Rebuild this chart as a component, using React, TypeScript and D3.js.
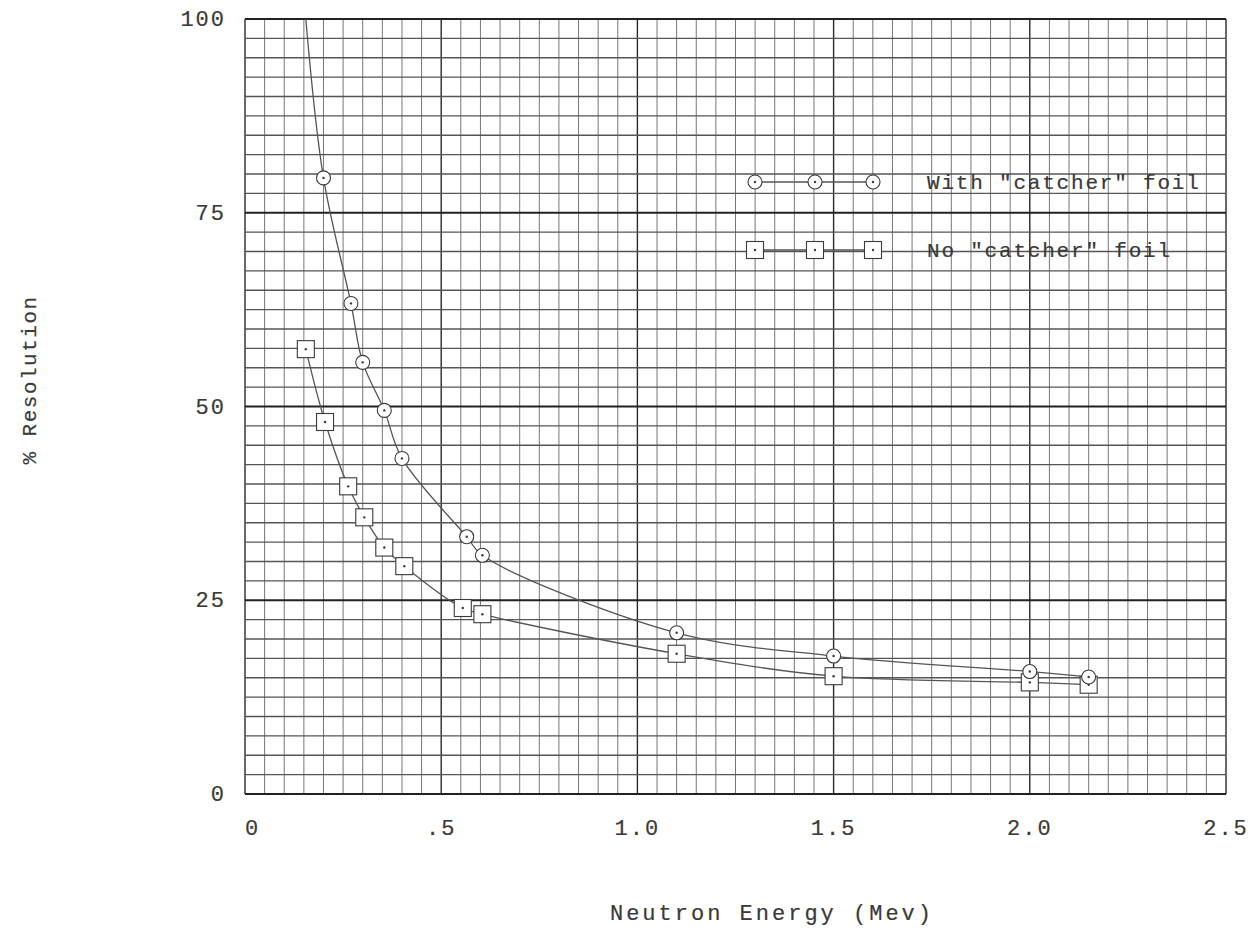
import React from "react";
import * as d3 from "d3";

// With "catcher" foil (circles)
const withEnergy = [0.2, 0.27, 0.3, 0.355, 0.4, 0.565, 0.605, 1.1, 1.5, 2.0, 2.15];
const withRes = [79.5, 63.3, 55.7, 49.5, 43.3, 33.2, 30.8, 20.8, 17.8, 15.8, 15.1];
// where the hand-drawn curve leaves the top of the grid
const withCurveTop = { energy: 0.155, res: 100 };

// No "catcher" foil (squares)
const noEnergy = [0.155, 0.204, 0.263, 0.304, 0.355, 0.406, 0.555, 0.605, 1.1, 1.5, 2.0, 2.15];
const noRes = [57.4, 48.0, 39.7, 35.7, 31.8, 29.4, 24.0, 23.2, 18.1, 15.2, 14.4, 14.1];

const xTicks = [0, 0.5, 1.0, 1.5, 2.0, 2.5];
const xTickLabels = ["0", ".5", "1.0", "1.5", "2.0", "2.5"];
const yTicks = [0, 25, 50, 75, 100];
const yTickLabels = ["0", "25", "50", "75", "100"];

const legendLabels = ['With "catcher" foil', 'No "catcher" foil'];

const FONT = "'Liberation Mono', 'DejaVu Sans Mono', monospace";
const INK = "#3a3a3a";

const App = () => {
    const width = 1259;
    const height = 944;
    const left = 245, right = 1226, top = 19, bottom = 794;

    const x = d3.scaleLinear().domain([0, 2.5]).range([left, right]);
    const y = d3.scaleLinear().domain([0, 100]).range([bottom, top]);

    const xMinor = d3.range(0, 51).map(i => i * 0.05);
    const yMinor = d3.range(0, 41).map(i => i * 2.5);

    const withPts = withEnergy.map((e, i) => ({ energy: e, res: withRes[i] }));
    const noPts = noEnergy.map((e, i) => ({ energy: e, res: noRes[i] }));

    const line = d3.line<{ energy: number; res: number }>()
        .x(d => x(d.energy))
        .y(d => y(d.res))
        .curve(d3.curveCatmullRom.alpha(0.5));

    const textStyle = { stroke: INK, strokeWidth: 0.2 };

    const circle = (cx: number, cy: number, key: string | number) => (
        <g key={key}>
            <circle cx={cx} cy={cy} r={7} fill="white" stroke={INK} strokeWidth={1.1} />
            <circle cx={cx} cy={cy} r={1.2} fill={INK} />
        </g>
    );
    const square = (cx: number, cy: number, key: string | number) => (
        <g key={key}>
            <rect x={cx - 8.5} y={cy - 8.5} width={17} height={17} fill="white" stroke={INK} strokeWidth={1.1} />
            <circle cx={cx} cy={cy} r={1.2} fill={INK} />
        </g>
    );

    const legY = [182, 250];
    const legX = [755, 815, 873];

    return (
        <svg width={width} height={height} style={{ position: "absolute", left: 0, top: 0, background: "white" }}>
            {/* grid */}
            <g>
                {xMinor.map((v, i) => (
                    <line key={"vx" + i} x1={x(v)} x2={x(v)} y1={top} y2={bottom}
                        stroke={i % 10 === 0 ? "#2a2a2a" : "#777"}
                        strokeWidth={i % 10 === 0 ? 1.4 : 1} />
                ))}
                {yMinor.map((v, i) => (
                    <line key={"hy" + i} x1={left} x2={right} y1={y(v)} y2={y(v)}
                        stroke={i % 10 === 0 ? "#222" : "#555"}
                        strokeWidth={i % 10 === 0 ? 1.8 : 1.3} />
                ))}
            </g>

            {/* tick labels */}
            {xTicks.map((v, i) => (
                <text key={"xt" + i} x={x(v)} y={835} textAnchor={i === 0 ? "start" : "middle"}
                    fontFamily={FONT} fontSize={22} fill={INK} letterSpacing={2} style={textStyle}>
                    {xTickLabels[i]}
                </text>
            ))}
            {yTicks.map((v, i) => (
                <text key={"yt" + i} x={226} y={y(v) + 7} textAnchor="end"
                    fontFamily={FONT} fontSize={22} fill={INK} letterSpacing={2} style={textStyle}>
                    {yTickLabels[i]}
                </text>
            ))}

            {/* axis titles */}
            <text x={772} y={920} textAnchor="middle" fontFamily={FONT} fontSize={22}
                letterSpacing={3} fill={INK} style={textStyle}>Neutron Energy (Mev)</text>
            <text transform={`translate(36, 380) rotate(-90)`} textAnchor="middle" fontFamily={FONT}
                fontSize={21} letterSpacing={1.5} fill={INK} style={textStyle}>% Resolution</text>

            {/* curves */}
            <path d={line([withCurveTop, ...withPts]) || ""} fill="none" stroke="#555" strokeWidth={1.3} />
            <path d={line(noPts) || ""} fill="none" stroke="#555" strokeWidth={1.3} />

            {/* markers */}
            {noPts.map((d, i) => square(x(d.energy), y(d.res), "s" + i))}
            {withPts.map((d, i) => circle(x(d.energy), y(d.res), "c" + i))}

            {/* legend */}
            {legY.map((ly, k) => (
                <g key={"leg" + k}>
                    <line x1={legX[0]} x2={legX[2]} y1={ly} y2={ly} stroke="#555" strokeWidth={1.3} />
                    {legX.map((lx, j) => (k === 0 ? circle(lx, ly, "lc" + j) : square(lx, ly, "ls" + j)))}
                    <text x={927} y={ly + 7} fontFamily={FONT} fontSize={21} letterSpacing={1.8} fill={INK}
                        style={textStyle}>
                        {legendLabels[k]}
                    </text>
                </g>
            ))}
        </svg>
    );
};

export default App;
